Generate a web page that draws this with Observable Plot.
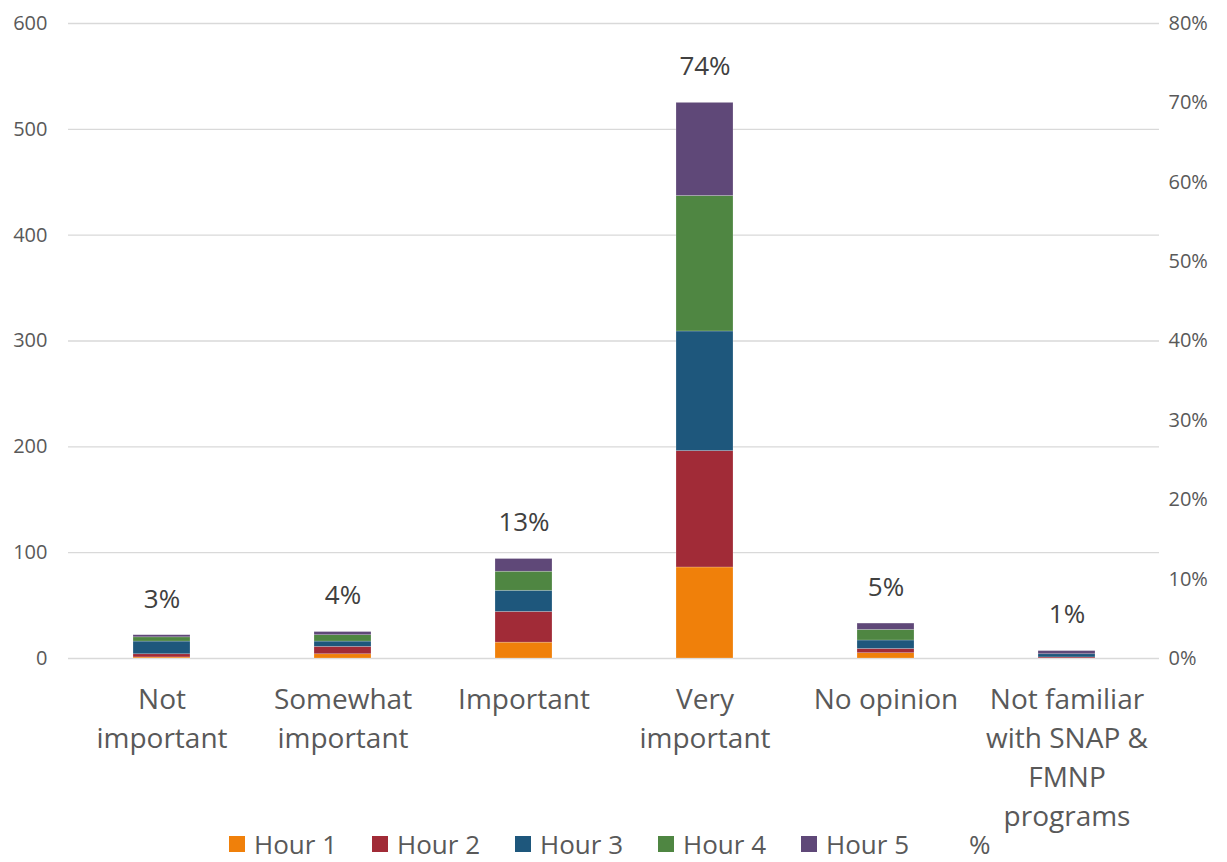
<!DOCTYPE html>
<html>
<head>
<meta charset="utf-8">
<script src="https://cdn.jsdelivr.net/npm/d3@7"></script>
<script src="https://cdn.jsdelivr.net/npm/@observablehq/plot@0.6"></script>
<style>
  html, body { margin: 0; padding: 0; background: #fff; overflow: hidden; }
  #wrap { position: relative; width: 1227px; height: 862px; font-family: "Open Sans", Lato, sans-serif; color: #595959; }
  #legend { position: absolute; left: 229px; top: 831px; height: 26px; display: flex; align-items: center; font-size: 26px; line-height: 26px; }
  .item { width: 143px; display: flex; align-items: center; white-space: nowrap; }
  .sw { width: 16px; height: 16px; margin-right: 9px; display: inline-block; flex: none; }
</style>
</head>
<body>
<div id="wrap"><div id="chart"></div><div id="legend"></div></div>
<script>
const categories = ["Not important", "Somewhat important", "Important", "Very important", "No opinion", "Not familiar with SNAP & FMNP programs"];
const categoryLabels = ["Not\nimportant", "Somewhat\nimportant", "Important", "Very\nimportant", "No opinion", "Not familiar\nwith SNAP &\nFMNP\nprograms"];
const seriesNames = ["Hour 1", "Hour 2", "Hour 3", "Hour 4", "Hour 5"];
const seriesColors = ["#f0800a", "#a12b37", "#1e577c", "#4f8642", "#5f4878"];
const hour1 = [1, 4, 15, 86, 5, 0];
const hour2 = [3, 7, 29, 110, 4, 1];
const hour3 = [12, 5, 20, 113, 8, 3];
const hour4 = [4, 6, 18, 128, 10, 0];
const hour5 = [2, 3, 12, 88, 6, 3];
const pctLabels = ["3%", "4%", "13%", "74%", "5%", "1%"];
const leftTicks = [0, 100, 200, 300, 400, 500, 600];
const rightTickLabels = ["0%", "10%", "20%", "30%", "40%", "50%", "60%", "70%", "80%"];

const seriesValues = [hour1, hour2, hour3, hour4, hour5];
const rows = [];
seriesNames.forEach((s, si) => {
  categories.forEach((c, ci) => rows.push({category: c, series: s, value: seriesValues[si][ci]}));
});
const totals = categories.map((c, ci) => ({
  category: c,
  total: seriesValues.reduce((a, arr) => a + arr[ci], 0),
  label: pctLabels[ci]
}));
const labelMap = new Map(categories.map((c, i) => [c, categoryLabels[i]]));
const rightTicks = rightTickLabels.map((_, i) => i * 600 / (rightTickLabels.length - 1));

const chart = Plot.plot({
  width: 1227,
  height: 836,
  marginLeft: 68,
  marginRight: 68,
  marginTop: 23,
  marginBottom: 178,
  style: {fontFamily: "'Open Sans', Lato, sans-serif", color: "#595959", background: "white"},
  x: {domain: categories, paddingInner: 0.686, paddingOuter: 0.343, label: null},
  y: {domain: [0, 600], label: null},
  color: {domain: seriesNames, range: seriesColors},
  marks: [
    Plot.gridY(leftTicks, {stroke: "#d9d9d9", strokeOpacity: 1, strokeWidth: 1.3}),
    Plot.axisY(leftTicks, {anchor: "left", tickSize: 0, tickPadding: 21, fontSize: 20, label: null}),
    Plot.axisY(rightTicks, {anchor: "right", tickSize: 0, tickPadding: 9, fontSize: 20, label: null,
      tickFormat: (d) => rightTickLabels[Math.round(d / 75)]}),
    Plot.axisX({anchor: "bottom", tickSize: 0, tickPadding: 23, fontSize: 28, lineHeight: 39 / 28, label: null,
      tickFormat: (d) => labelMap.get(d)}),
    Plot.barY(rows, {x: "category", y: "value", fill: "series", z: "series", stroke: "white", strokeOpacity: 0.35, strokeWidth: 0.6}),
    Plot.text(totals, {x: "category", y: "total", text: "label", dy: -36, fontSize: 26, fill: "#404040"})
  ]
});
document.getElementById("chart").appendChild(chart);

const legend = document.getElementById("legend");
seriesNames.concat(["%"]).forEach((name, i) => {
  const item = document.createElement("div");
  item.className = "item";
  const sw = document.createElement("span");
  sw.className = "sw";
  sw.style.background = i < seriesColors.length ? seriesColors[i] : "transparent";
  item.appendChild(sw);
  item.appendChild(document.createTextNode(name));
  legend.appendChild(item);
});
</script>
</body>
</html>
